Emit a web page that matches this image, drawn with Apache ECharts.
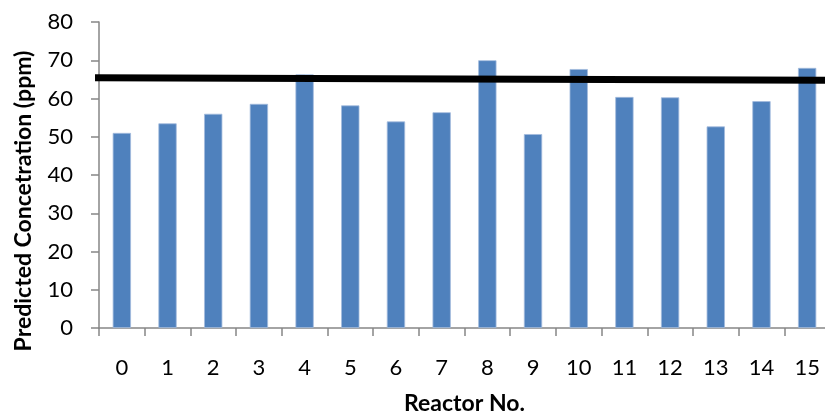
<!DOCTYPE html>
<html>
<head>
<meta charset="utf-8">
<script src="https://cdn.jsdelivr.net/npm/echarts@6/dist/echarts.min.js"></script>
<style>html,body{margin:0;padding:0;background:#fff}#c{width:825px;height:413px}</style>
</head>
<body>
<div id="c"></div>
<script>
var categories = ['0','1','2','3','4','5','6','7','8','9','10','11','12','13','14','15'];
var concentration = [51.0, 53.5, 56.0, 58.6, 66.3, 58.2, 54.0, 56.4, 70.0, 50.7, 67.7, 60.4, 60.3, 52.7, 59.3, 68.0];
var trendX = [-0.11, 16];
var trendY = [65.4, 64.75];
var yTicks = {min: 0, max: 80, interval: 10};

var chart = echarts.init(document.getElementById('c'), null, {renderer: 'canvas'});
var fontFam = 'Lato, "Open Sans", sans-serif';
chart.setOption({
  animation: false,
  grid: {left: 99, top: 22, bottom: 85, right: -5, containLabel: false, outerBoundsMode: 'none'},
  xAxis: [{
    type: 'category',
    data: categories,
    name: 'Reactor No.',
    nameLocation: 'middle',
    nameGap: 64,
    nameTextStyle: {fontFamily: fontFam, fontWeight: 'bold', fontSize: 23, color: '#000'},
    axisLine: {lineStyle: {color: '#868686', width: 1.5}},
    axisTick: {show: true, length: 8, lineStyle: {color: '#868686', width: 1.5}},
    axisLabel: {fontFamily: fontFam, fontSize: 22, color: '#000', margin: 29},
    splitLine: {show: false}
  }, {
    type: 'value',
    min: 0, max: 16,
    show: false
  }],
  yAxis: {
    type: 'value',
    min: yTicks.min, max: yTicks.max, interval: yTicks.interval,
    name: 'Predicted Concetration (ppm)',
    nameLocation: 'middle',
    nameGap: 64,
    nameTextStyle: {fontFamily: fontFam, fontWeight: 'bold', fontSize: 23, color: '#000', padding: [0, 52, 0, 0]},
    axisLine: {show: true, lineStyle: {color: '#868686', width: 1.5}},
    axisTick: {show: true, length: 8, lineStyle: {color: '#868686', width: 1.5}},
    axisLabel: {fontFamily: fontFam, fontSize: 22, color: '#000', margin: 26},
    splitLine: {show: false}
  },
  series: [{
    type: 'bar',
    data: concentration,
    xAxisIndex: 0,
    barWidth: '40%',
    itemStyle: {color: '#4f81bd', borderColor: '#a3bbdd', borderWidth: 0.8}
  }, {
    type: 'line',
    xAxisIndex: 1,
    data: trendX.map(function (x, i) { return [x, trendY[i]]; }),
    symbol: 'none',
    clip: false,
    lineStyle: {color: '#000', width: 7},
    z: 5
  }]
});
</script>
</body>
</html>
